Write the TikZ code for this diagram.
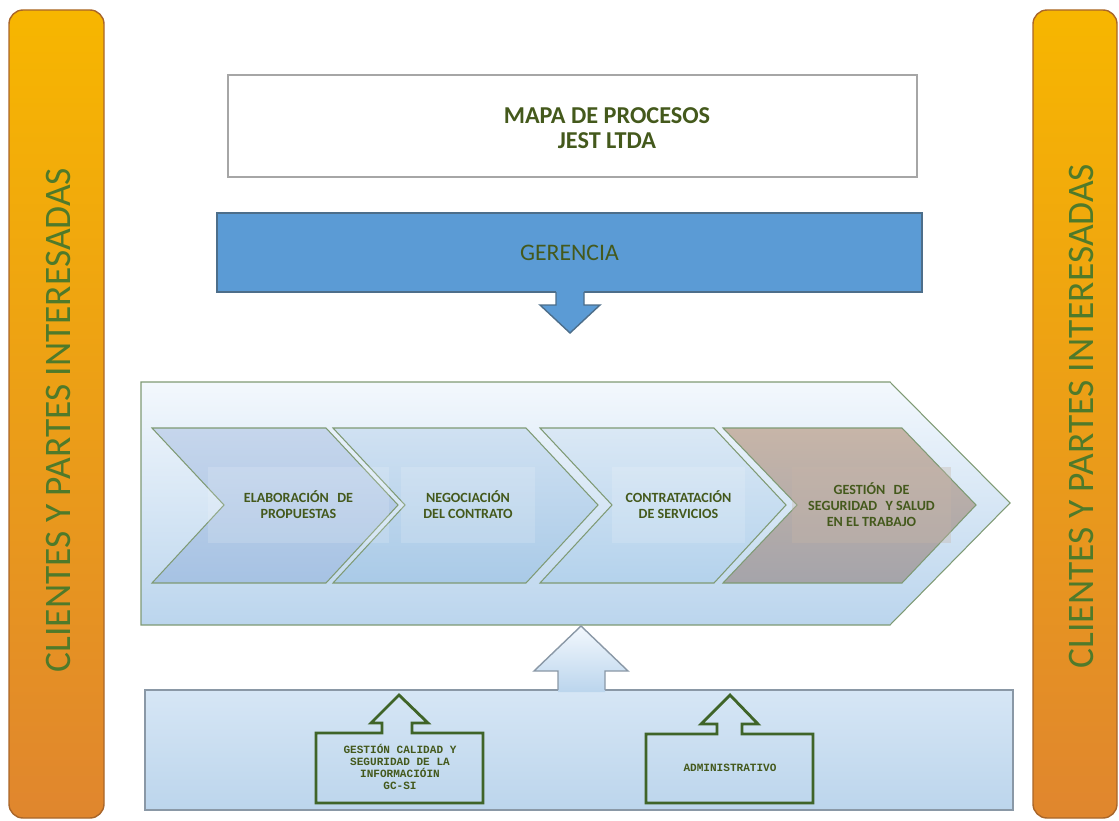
\documentclass[tikz,border=0pt]{standalone}
\usepackage{fontspec}
\setmainfont{Carlito}
\newfontfamily\pixfont{Liberation Mono}
\usepackage{tikz}
\usetikzlibrary{positioning}

\definecolor{barTop}{HTML}{F7B600}
\definecolor{barBot}{HTML}{E0862E}
\definecolor{barEdge}{HTML}{A9662A}
\definecolor{sideGreen}{HTML}{4F7A2A}
\definecolor{txtGreen}{HTML}{44591C}
\definecolor{gerFill}{HTML}{5B9BD5}
\definecolor{gerEdge}{HTML}{4D6E8A}
\definecolor{paleTop}{HTML}{F3F8FD}
\definecolor{paleBot}{HTML}{BBD5ED}
\definecolor{frameEdge}{HTML}{7F9A74}
\definecolor{boxTop}{HTML}{D6E6F5}
\definecolor{boxBot}{HTML}{BCD5EC}
\definecolor{boxEdge}{HTML}{8A98A6}
\definecolor{ownGreen}{HTML}{3F6428}
\definecolor{cOneTop}{HTML}{C6D6EC}
\definecolor{cOneBot}{HTML}{A6C2E3}
\definecolor{cTwoTop}{HTML}{D0E1F2}
\definecolor{cTwoBot}{HTML}{A9CAE7}
\definecolor{cThrTop}{HTML}{DAE8F5}
\definecolor{cThrBot}{HTML}{B4D2EC}
\definecolor{cFouTop}{HTML}{C7B5A8}
\definecolor{cFouBot}{HTML}{A5A4AA}

\begin{document}
\begin{tikzpicture}[
    x=0.02cm, y=-0.02cm,
    sidebar/.style={rounded corners=8pt, draw=barEdge, line width=0.8pt, top color=barTop, bottom color=barBot},
    sidetxt/.style={rotate=90, text=sideGreen, font=\fontsize{21.3}{25}\selectfont},
    chev/.style={draw=frameEdge, line width=0.6pt},
    steptxt/.style={align=center, text=txtGreen, font=\bfseries\fontsize{8}{9.1}\selectfont,
        fill=white, fill opacity=0.15, text opacity=1, minimum height=1.52cm, inner sep=0pt},
    ownbox/.style={draw=ownGreen, line width=1.6pt, line join=miter},
    owntxt/.style={align=center, text=txtGreen, font=\pixfont\bfseries\fontsize{6.3}{6.8}\selectfont}
]
\useasboundingbox (0,0) rectangle (1119,821);

% 两侧的竖条
\path[sidebar] (9,10) rectangle (104,818);
\path[sidebar] (1033,10) rectangle (1117,818);
\node[sidetxt] (leftside) at (58,420) {CLIENTES Y PARTES INTERESADAS};
\node[sidetxt] (rightside) at (1081,416) {CLIENTES Y PARTES INTERESADAS};

% 标题
\node[draw=black!35, line width=1.1pt, minimum width=13.78cm, minimum height=2.04cm] (title) at (572.5,126) {};
\node[align=center, text=txtGreen, font=\bfseries\fontsize{13.8}{14.6}\selectfont] (titletxt) at (607,128)
    {MAPA DE PROCESOS\\JEST LTDA};

% 管理层
\node[draw=gerEdge, fill=gerFill, line width=0.8pt, minimum width=14.1cm, minimum height=1.58cm,
    text=txtGreen, font=\fontsize{13.5}{15}\selectfont] (gerencia) at (569.5,252.5) {GERENCIA};
\fill[gerFill] (556,290) -- (556,305) -- (540,305) -- (570,333) -- (600,305) -- (584,305) -- (584,290) -- cycle;
\draw[gerEdge, line width=0.8pt] (556,292) -- (556,305) -- (540,305) -- (570,333) -- (600,305) -- (584,305) -- (584,292);

% 核心流程
\draw[chev, top color=paleTop, bottom color=paleBot] (141,382) -- (890,382) -- (1010,503) -- (890,625) -- (141,625) -- cycle;
\draw[chev, top color=cOneTop, bottom color=cOneBot] (152,428) -- (326,428) -- (398,505) -- (326,583) -- (152,583) -- (224,505) -- cycle;
\draw[chev, top color=cTwoTop, bottom color=cTwoBot] (333,428) -- (526,428) -- (598,505) -- (526,583) -- (333,583) -- (405,505) -- cycle;
\draw[chev, top color=cThrTop, bottom color=cThrBot] (540,428) -- (714,428) -- (786,505) -- (714,583) -- (540,583) -- (612,505) -- cycle;
\draw[chev, top color=cFouTop, bottom color=cFouBot] (723,428) -- (902,428) -- (976,505) -- (902,583) -- (723,583) -- (797,505) -- cycle;

\node[steptxt, minimum width=3.62cm] (elab) at (298.5,505) {ELABORACIÓN\hspace{0.6em}DE\\PROPUESTAS};
\node[steptxt, minimum width=2.68cm] (nego) at (468,505) {NEGOCIACIÓN\\DEL CONTRATO};
\node[steptxt, minimum width=2.66cm] (contra) at (678.5,505) {CONTRATATACIÓN\\DE SERVICIOS};
\node[steptxt, minimum width=3.18cm, fill=cFouTop, fill opacity=0.35] (sst) at (871.5,505)
    {GESTIÓN\hspace{0.6em}DE\\SEGURIDAD\hspace{0.6em}Y SALUD\\EN EL TRABAJO};

% 支持流程
\draw[boxEdge, line width=0.8pt, top color=boxTop, bottom color=boxBot] (145,690) rectangle (1013,810);
\shade[top color=paleTop, bottom color=paleBot] (558,692) -- (558,671) -- (534,671) -- (581,626) -- (628,671) -- (605,671) -- (605,692) -- cycle;
\draw[boxEdge, line width=0.8pt] (558,690) -- (558,671) -- (534,671) -- (581,626) -- (628,671) -- (605,671) -- (605,690);

\draw[ownbox] (316,803) -- (316,733) -- (382,733) -- (382,723) -- (371,723) -- (399,695) -- (428,723)
    -- (412,723) -- (412,733) -- (483,733) -- (483,803) -- cycle;
\draw[ownbox] (646,803) -- (646,734) -- (717,734) -- (717,724) -- (701,724) -- (730,695) -- (758,724)
    -- (742,724) -- (742,734) -- (813,734) -- (813,803) -- cycle;
\node[owntxt] (gcsi) at (400,767) {GESTIÓN CALIDAD Y\\SEGURIDAD DE LA\\INFORMACIÓIN\\GC-SI};
\node[owntxt] (admin) at (730,768) {ADMINISTRATIVO};

\end{tikzpicture}
\end{document}
